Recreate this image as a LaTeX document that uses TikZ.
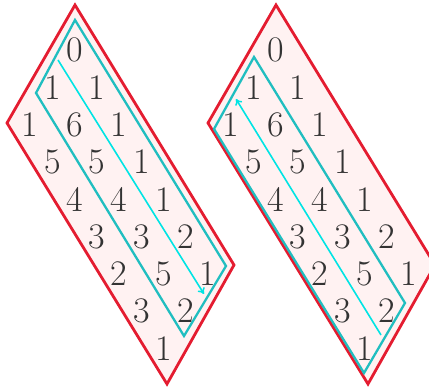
\documentclass[tikz,border=0pt]{standalone}
\usepackage{fontspec}
\usepackage{tikz}
\usetikzlibrary{arrows.meta}

\definecolor{frame}{RGB}{228,28,48}
\definecolor{band}{RGB}{32,190,192}
\definecolor{trace}{RGB}{0,228,228}

\tikzset{
  entry/.style={font=\fontsize{36}{40}\selectfont, text=black!80, inner sep=0pt},
  outer/.style={line width=2.8pt, frame, fill=red!5},
  strip/.style={line width=2.3pt, band},
  path/.style={-{To[length=6pt, width=8pt]}, line width=1.6pt, trace}
}

\begin{document}
\begin{tikzpicture}[x=1pt, y=-1pt]
\useasboundingbox (0,0) rectangle (429,390);

% Left frieze
\draw[outer] (75,5) -- (234,265) -- (167,384) -- (7,123) -- cycle;
\draw[strip] (75,20) -- (226,266) -- (184,336) -- (36,93) -- cycle;

\node[entry] (l00) at (74.5, 50) {0};
\node[entry] (l10) at (96.8, 87.3) {1};
\node[entry] (l20) at (119, 124.6) {1};
\node[entry] (l30) at (141.3, 161.9) {1};
\node[entry] (l40) at (163.5, 199.2) {1};
\node[entry] (l50) at (185.8, 236.5) {2};
\node[entry] (l60) at (208, 273.8) {1};

\node[entry] (l01) at (52.3, 87.3) {1};
\node[entry] (l11) at (74.5, 124.6) {6};
\node[entry] (l21) at (96.8, 161.9) {5};
\node[entry] (l31) at (119, 199.2) {4};
\node[entry] (l41) at (141.3, 236.5) {3};
\node[entry] (l51) at (163.5, 273.8) {5};
\node[entry] (l61) at (185.8, 311.1) {2};

\node[entry] (l02) at (30, 124.6) {1};
\node[entry] (l12) at (52.3, 161.9) {5};
\node[entry] (l22) at (74.5, 199.2) {4};
\node[entry] (l32) at (96.8, 236.5) {3};
\node[entry] (l42) at (119, 273.8) {2};
\node[entry] (l52) at (141.3, 311.1) {3};
\node[entry] (l62) at (163.5, 348.4) {1};

\coordinate (ltail) at (58, 60);
\coordinate (lhead) at (204, 294);
\draw[path] (ltail) -- (lhead);

% Right frieze
\draw[outer] (276,5) -- (435,265) -- (368,384) -- (208,123) -- cycle;
\draw[strip] (254,57) -- (405,303) -- (364,373) -- (214,129) -- cycle;

\node[entry] (r00) at (275.5, 50) {0};
\node[entry] (r10) at (297.8, 87.3) {1};
\node[entry] (r20) at (320, 124.6) {1};
\node[entry] (r30) at (342.3, 161.9) {1};
\node[entry] (r40) at (364.5, 199.2) {1};
\node[entry] (r50) at (386.8, 236.5) {2};
\node[entry] (r60) at (409, 273.8) {1};

\node[entry] (r01) at (253.3, 87.3) {1};
\node[entry] (r11) at (275.5, 124.6) {6};
\node[entry] (r21) at (297.8, 161.9) {5};
\node[entry] (r31) at (320, 199.2) {4};
\node[entry] (r41) at (342.3, 236.5) {3};
\node[entry] (r51) at (364.5, 273.8) {5};
\node[entry] (r61) at (386.8, 311.1) {2};

\node[entry] (r02) at (231, 124.6) {1};
\node[entry] (r12) at (253.3, 161.9) {5};
\node[entry] (r22) at (275.5, 199.2) {4};
\node[entry] (r32) at (297.8, 236.5) {3};
\node[entry] (r42) at (320, 273.8) {2};
\node[entry] (r52) at (342.3, 311.1) {3};
\node[entry] (r62) at (364.5, 348.4) {1};

\coordinate (rtail) at (381, 335);
\coordinate (rhead) at (236, 99);
\draw[path] (rtail) -- (rhead);

\end{tikzpicture}
\end{document}
